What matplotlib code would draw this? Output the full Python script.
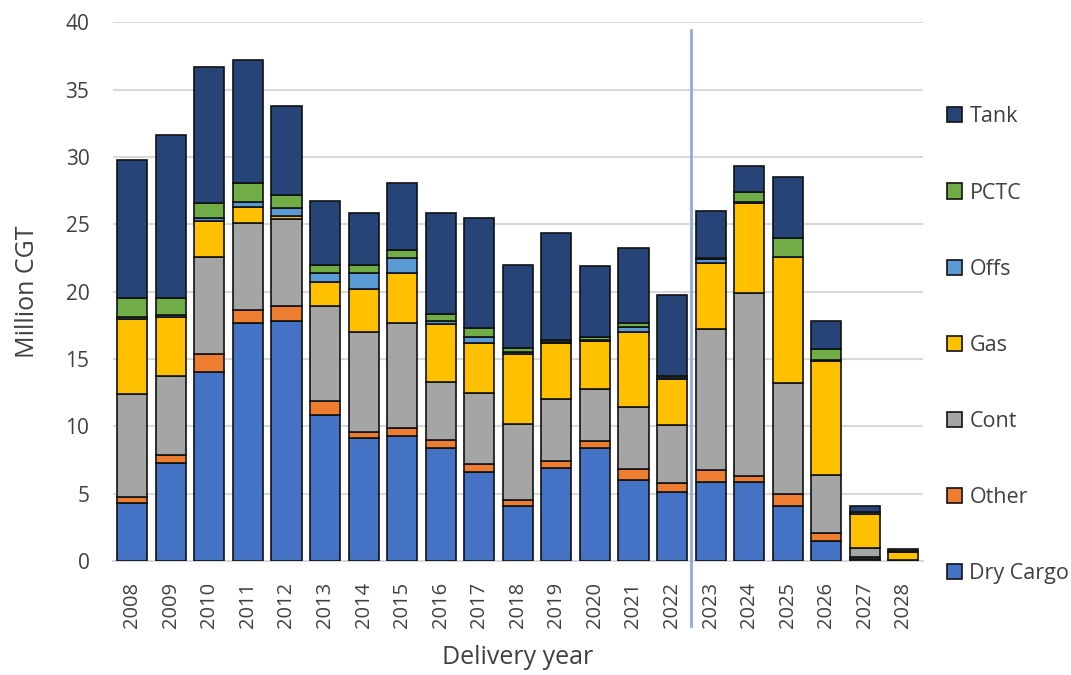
import matplotlib.pyplot as plt
import numpy as np

years = [str(y) for y in range(2008, 2029)]

dry_cargo = [4.3, 7.3, 14.0, 17.7, 17.85, 10.8, 9.1, 9.3, 8.4, 6.6, 4.05, 6.9, 8.4, 6.0, 5.15, 5.85, 5.85, 4.05, 1.5, 0.15, 0.02]
other = [0.45, 0.55, 1.4, 0.95, 1.1, 1.1, 0.5, 0.6, 0.6, 0.6, 0.45, 0.5, 0.5, 0.8, 0.6, 0.9, 0.45, 0.95, 0.55, 0.15, 0.0]
cont = [7.65, 5.85, 7.2, 6.45, 6.45, 7.0, 7.4, 7.8, 4.3, 5.3, 5.65, 4.65, 3.85, 4.65, 4.35, 10.5, 13.6, 8.2, 4.3, 0.65, 0.03]
gas = [5.6, 4.4, 2.65, 1.2, 0.2, 1.8, 3.2, 3.7, 4.3, 3.7, 5.25, 4.1, 3.55, 5.55, 3.4, 4.85, 6.7, 9.35, 8.5, 2.55, 0.6]
offs = [0.15, 0.15, 0.25, 0.35, 0.6, 0.7, 1.2, 1.1, 0.25, 0.45, 0.15, 0.1, 0.1, 0.35, 0.05, 0.3, 0.05, 0.05, 0.05, 0.0, 0.0]
pctc = [1.4, 1.25, 1.1, 1.4, 1.0, 0.6, 0.6, 0.6, 0.5, 0.65, 0.25, 0.15, 0.2, 0.3, 0.15, 0.1, 0.75, 1.35, 0.85, 0.1, 0.05]
tank = [10.25, 12.15, 10.05, 9.15, 6.6, 4.7, 3.85, 5.0, 7.45, 8.15, 6.2, 7.95, 5.3, 5.6, 6.05, 3.45, 1.9, 4.55, 2.1, 0.45, 0.2]

series = [
    ("Dry Cargo", dry_cargo, "#4472C4"),
    ("Other", other, "#ED7D31"),
    ("Cont", cont, "#A5A5A5"),
    ("Gas", gas, "#FFC000"),
    ("Offs", offs, "#5B9BD5"),
    ("PCTC", pctc, "#70AD47"),
    ("Tank", tank, "#264478"),
]

txt = "#404040"
plt.rcParams['font.family'] = ['Open Sans', 'DejaVu Sans']

fig = plt.figure(figsize=(10.71, 6.75), dpi=100)
ax = fig.add_axes([0.1055, 0.169, 0.756, 0.798])

x = np.arange(len(years))
bottom = np.zeros(len(years))
handles = []
for name, vals, color in series:
    vals = np.array(vals)
    b = ax.bar(x, vals, 0.78, bottom=bottom, color=color, edgecolor="#111111",
               linewidth=1.2, label=name, zorder=3)
    handles.append(b)
    bottom += vals

ax.set_xlim(-0.5, len(years) - 0.5)
ax.set_ylim(0, 40)
ax.set_yticks(range(0, 41, 5))
ax.set_xticks(x)
ax.set_xticklabels(years, rotation=90)
ax.tick_params(axis='both', length=0, colors=txt)
ax.tick_params(axis='y', labelsize=15, pad=17)
ax.tick_params(axis='x', labelsize=14.5, pad=15)
ax.grid(axis='y', color="#d9d9d9", linewidth=1.5, zorder=0)
for s in ["top", "right", "left"]:
    ax.spines[s].set_visible(False)
ax.spines["bottom"].set_color("#d9d9d9")
ax.spines["bottom"].set_linewidth(1.5)

# forecast divider between 2022 and 2023
ax.axvline(14.5, ymin=-0.12, ymax=0.985, color="#8FAADC", linewidth=2,
           clip_on=False, zorder=4)

ax.set_ylabel("Million CGT", fontsize=18, color=txt, labelpad=18)
ax.set_xlabel("Delivery year", fontsize=18, color=txt, labelpad=12)

leg = fig.legend(handles[::-1], [s[0] for s in series][::-1], loc="upper left",
                 bbox_to_anchor=(0.866, 0.871), frameon=False, fontsize=15.5,
                 handlelength=0.7, handleheight=0.7, handletextpad=0.35,
                 labelspacing=2.56)
for t in leg.get_texts():
    t.set_color(txt)

fig.savefig("out.png", dpi=100)
